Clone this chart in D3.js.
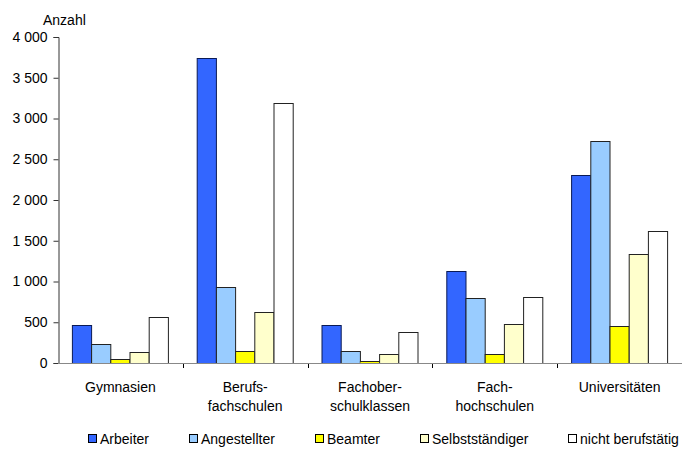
<!DOCTYPE html>
<html>
<head>
<meta charset="utf-8">
<script src="https://cdn.jsdelivr.net/npm/d3@7"></script>
<style>
  html, body { margin: 0; padding: 0; background: #fff; }
  svg text { font-family: "Liberation Sans", Arial, sans-serif; fill: #000; }
</style>
</head>
<body>
<svg id="chart" width="682" height="450"></svg>
<script>
// Schulart (two-line labels split at the hyphen)
const categories = ["Gymnasien", "Berufsfachschulen", "Fachoberschulklassen", "Fachhochschulen", "Universitäten"];
const categoryLines = [["Gymnasien"], ["Berufs-", "fachschulen"], ["Fachober-", "schulklassen"], ["Fach-", "hochschulen"], ["Universitäten"]];

// Berufliche Stellung des Vaters
const series = ["Arbeiter", "Angestellter", "Beamter", "Selbstständiger", "nicht berufstätig"];
const arbeiter       = [466, 3740, 466, 1125, 2303];
const angestellter   = [233,  936, 143,  797, 2720];
const beamter        = [ 45,  143,  25,  106,  458];
const selbststaendig = [139,  622, 110,  475, 1334];
const nichtTaetig    = [561, 3190, 376,  815, 1625];
const seriesValues = [arbeiter, angestellter, beamter, selbststaendig, nichtTaetig];

const yTicks = [0, 500, 1000, 1500, 2000, 2500, 3000, 3500, 4000];
const colors = ["#3366FF", "#99CCFF", "#FFFF00", "#FFFFCC", "#FFFFFF"];
const strokes = ["#0A1A55", "#222", "#222", "#222", "#222"];

const svg = d3.select("#chart");
const plotLeft = 58, plotRight = 682, plotTop = 37, plotBottom = 363;
const fontSize = 14;

const x = d3.scaleBand().domain(categories).range([plotLeft, plotRight]).paddingInner(0).paddingOuter(0);
const xs = d3.scaleBand().domain(series).range([0, x.bandwidth()]).paddingInner(0).paddingOuter(0.75);
const y = d3.scaleLinear().domain([0, 4000]).range([plotBottom, plotTop]);

const fmt = d3.formatLocale({ decimal: ",", thousands: " ", grouping: [3], currency: ["", ""] }).format(",d");

// Bars
const rows = categories.map((c, i) => ({ cat: c, vals: series.map((s, j) => ({ s, j, v: seriesValues[j][i] })) }));
const g = svg.append("g").selectAll("g").data(rows).join("g")
  .attr("transform", d => `translate(${x(d.cat)},0)`);
g.selectAll("rect").data(d => d.vals).join("rect")
  .attr("x", d => xs(d.s))
  .attr("y", d => Math.round(y(d.v)) + 0.5)
  .attr("width", xs.bandwidth())
  .attr("height", d => Math.round(y(0)) - Math.round(y(d.v)))
  .attr("fill", d => colors[d.j])
  .attr("stroke", d => strokes[d.j])
  .attr("stroke-width", 1);

// Y axis
const yAxis = svg.append("g").attr("transform", `translate(${plotLeft + 0.5},0)`)
  .call(d3.axisLeft(y).tickValues(yTicks).tickFormat(fmt).tickSize(5).tickPadding(6));
yAxis.select(".domain").attr("stroke", "#333");
yAxis.selectAll(".tick line").attr("stroke", "#333");
yAxis.selectAll("text").style("font-size", fontSize + "px").attr("fill", "#000");

// X axis line with ticks at the category boundaries
const xAxisG = svg.append("g");
xAxisG.append("line")
  .attr("x1", plotLeft).attr("x2", plotRight)
  .attr("y1", Math.round(y(0)) + 0.5).attr("y2", Math.round(y(0)) + 0.5)
  .attr("stroke", "#888");
xAxisG.selectAll("line.tick").data(categories.slice(1)).join("line")
  .attr("class", "tick")
  .attr("x1", d => Math.round(x(d)) + 0.5).attr("x2", d => Math.round(x(d)) + 0.5)
  .attr("y1", Math.round(y(0)) + 1).attr("y2", Math.round(y(0)) + 5)
  .attr("stroke", "#000");

// Category labels
const labels = svg.append("g").selectAll("text").data(categories).join("text")
  .attr("text-anchor", "middle")
  .style("font-size", fontSize + "px")
  .attr("transform", d => `translate(${x(d) + x.bandwidth() / 2},0)`);
labels.selectAll("tspan").data((d, i) => categoryLines[i]).join("tspan")
  .attr("x", 0)
  .attr("y", (d, k) => 392 + k * 19)
  .text(d => d);

// Axis title
svg.append("text").attr("x", 43).attr("y", 25).style("font-size", fontSize + "px").text("Anzahl");

// Legend
const legendX = [88, 189, 315, 420, 568];
const leg = svg.append("g").selectAll("g").data(series).join("g")
  .attr("transform", (d, i) => `translate(${legendX[i]},0)`);
leg.append("rect").attr("x", 0.5).attr("y", 434.5).attr("width", 8).attr("height", 8)
  .attr("fill", (d, i) => colors[i]).attr("stroke", "#000");
leg.append("text").attr("x", 12).attr("y", 444).style("font-size", fontSize + "px").text(d => d);
</script>
</body>
</html>
